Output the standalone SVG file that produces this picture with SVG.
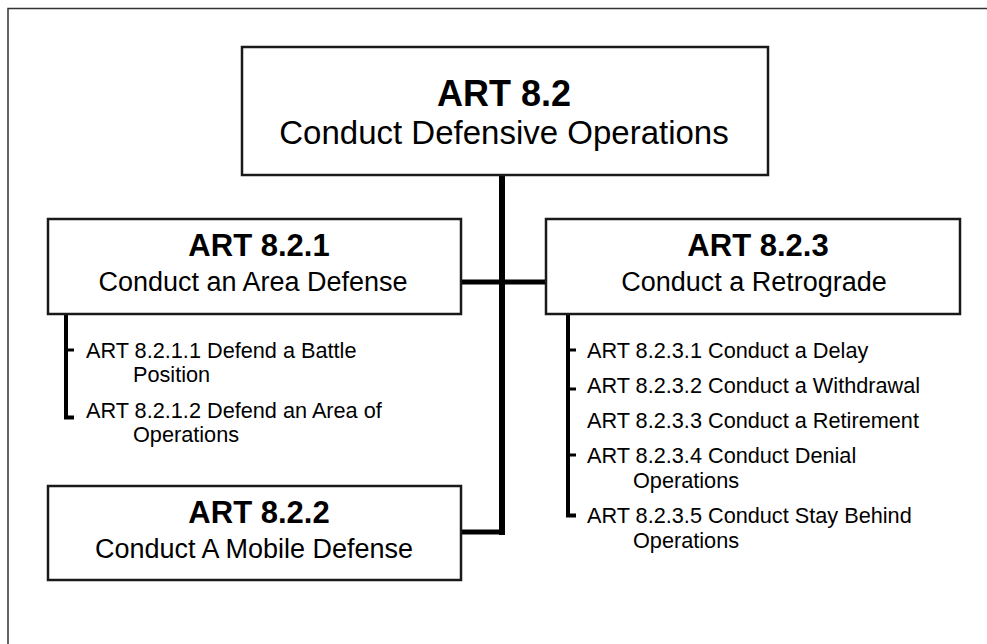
<svg xmlns="http://www.w3.org/2000/svg" width="987" height="644" viewBox="0 0 987 644">
<style>
.box{fill:#fff;stroke:#1a1a1a;stroke-width:2.5}
.t{font-family:"Liberation Sans",Arial,Helvetica,sans-serif;fill:#000;text-anchor:middle}
.tb{font-weight:bold}
.li{font-family:"Liberation Sans",Arial,Helvetica,sans-serif;fill:#000;font-size:21.7px}
.c{fill:none;stroke:#000;stroke-linecap:butt}
</style>
<rect width="987" height="644" fill="#fff"/>
<path d="M8 650 V8.5 H995" fill="none" stroke="#333" stroke-width="1.5"/>
<g id="connectors">
<path class="c" d="M502 176 V535" stroke-width="6"/>
<path class="c" d="M461 282 H546" stroke-width="5"/>
<path class="c" d="M461 532 H505" stroke-width="5"/>
<path class="c" d="M66 314 V417.5 H74" stroke-width="4"/>
<path class="c" d="M66 350 H74" stroke-width="3"/>
<path class="c" d="M568 314 V515.5 H576" stroke-width="4"/>
<path class="c" d="M568 350 H576 M568 389 H576 M568 455 H576" stroke-width="3"/>
</g>
<g id="n82">
<rect class="box" x="242" y="47" width="526" height="128"/>
<text class="t tb" x="504" y="106" font-size="36">ART 8.2</text>
<text class="t" x="504" y="144" font-size="33">Conduct Defensive Operations</text>
</g>
<g id="n821">
<rect class="box" x="48" y="219" width="413" height="95"/>
<text class="t tb" x="259" y="256" font-size="31">ART 8.2.1</text>
<text class="t" x="253" y="291" font-size="27">Conduct an Area Defense</text>
</g>
<g id="n822">
<rect class="box" x="48" y="486" width="413" height="94"/>
<text class="t tb" x="259" y="523" font-size="31">ART 8.2.2</text>
<text class="t" x="254" y="558" font-size="27">Conduct A Mobile Defense</text>
</g>
<g id="n823">
<rect class="box" x="546" y="219" width="414" height="95"/>
<text class="t tb" x="758" y="256" font-size="31">ART 8.2.3</text>
<text class="t" x="754" y="291" font-size="27">Conduct a Retrograde</text>
</g>
<g id="n821list">
<text class="li" x="86" y="357.5">ART 8.2.1.1 Defend a Battle</text>
<text class="li" x="133" y="382">Position</text>
<text class="li" x="86" y="417.5">ART 8.2.1.2 Defend an Area of</text>
<text class="li" x="133" y="442">Operations</text>
</g>
<g id="n823list">
<text class="li" x="587" y="357.5">ART 8.2.3.1 Conduct a Delay</text>
<text class="li" x="587" y="392.5">ART 8.2.3.2 Conduct a Withdrawal</text>
<text class="li" x="587" y="427.5">ART 8.2.3.3 Conduct a Retirement</text>
<text class="li" x="587" y="462.5">ART 8.2.3.4 Conduct Denial</text>
<text class="li" x="633" y="487.5">Operations</text>
<text class="li" x="587" y="522.5">ART 8.2.3.5 Conduct Stay Behind</text>
<text class="li" x="633" y="547.5">Operations</text>
</g>
</svg>
